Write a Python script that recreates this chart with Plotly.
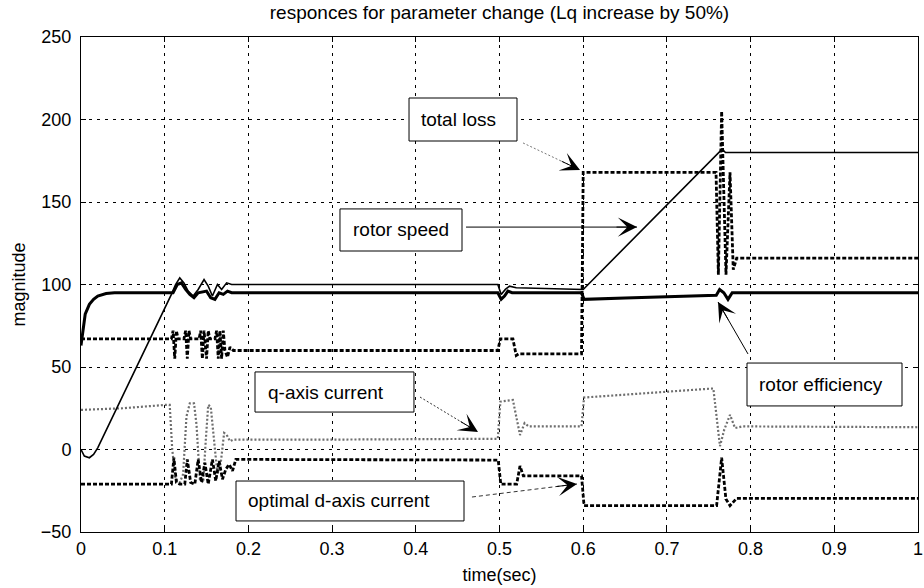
import plotly.graph_objects as go

# ---- simulated responses (time in seconds) ----
speed_t = [0, 0.004, 0.01, 0.015, 0.02, 0.04, 0.06, 0.08, 0.1, 0.108, 0.113, 0.118, 0.123,
           0.128, 0.134, 0.14, 0.147, 0.152, 0.157, 0.163, 0.168, 0.174, 0.18, 0.3, 0.45,
           0.498, 0.502, 0.507, 0.512, 0.52, 0.6, 0.766, 0.77, 0.78, 1.0]
speed_v = [0, -4, -5, -3, 1, 22, 43, 64, 85, 94, 100, 104, 101,
           96, 93, 97, 103, 99, 93, 100, 97, 101, 100, 100, 100,
           100, 94, 97, 99, 98, 97, 182, 180, 180, 180]

eff_t = [0, 0.002, 0.005, 0.01, 0.015, 0.02, 0.03, 0.04, 0.11, 0.115, 0.12, 0.125, 0.13,
         0.135, 0.14, 0.15, 0.155, 0.16, 0.165, 0.17, 0.175, 0.18, 0.498, 0.502, 0.506,
         0.51, 0.515, 0.598, 0.601, 0.65, 0.7, 0.759, 0.763, 0.768, 0.773, 0.778, 1.0]
eff_v = [63, 72, 82, 88, 91, 93, 94.5, 95, 95, 100, 101, 97, 94,
         92, 95, 96, 92, 91, 95, 94, 96, 95, 95, 91, 93,
         96, 95, 95, 91, 91.8, 92.5, 93.5, 97, 95, 91, 95, 95]

loss_t = [0, 0.108, 0.110, 0.112, 0.114, 0.116, 0.123, 0.125, 0.127, 0.129, 0.131,
          0.141, 0.143, 0.145, 0.147, 0.150, 0.152, 0.154, 0.16, 0.162, 0.164, 0.166,
          0.168, 0.170, 0.172, 0.175, 0.178, 0.182, 0.498, 0.501, 0.516, 0.52, 0.523,
          0.526, 0.598, 0.6, 0.7587, 0.7615, 0.7654, 0.7706, 0.7754, 0.7793, 0.7834, 1.0]
loss_v = [67, 67, 72, 55, 72, 67, 67, 72, 55, 72, 67,
          67, 72, 55, 72, 55, 72, 67, 67, 72, 55, 72,
          55, 72, 60, 56, 62, 60, 60, 67, 67, 57, 58,
          58, 58, 168, 168, 106, 205, 106, 168, 109, 116, 116]

iq_t = [0, 0.05, 0.1, 0.106, 0.109, 0.113, 0.118, 0.122, 0.126, 0.13, 0.135, 0.138, 0.142,
        0.146, 0.149, 0.152, 0.155, 0.159, 0.163, 0.167, 0.171, 0.174, 0.178, 0.182, 0.3,
        0.498, 0.501, 0.516, 0.5245, 0.53, 0.535, 0.598, 0.601, 0.7555, 0.7634, 0.7685,
        0.7754, 0.7814, 0.79, 1.0]
iq_v = [24, 25, 27, 27, 0, -18, -20, -15, 20, 28, 28, 15, -18,
        -20, 5, 27, 26, 5, -15, -8, 10, 9, 5, 6, 6,
        6.5, 29, 30, 8.8, 16, 14, 14, 31.5, 37, 2, 12,
        21, 13, 14, 13.5]

id_t = [0, 0.108, 0.111, 0.114, 0.118, 0.124, 0.127, 0.131, 0.136, 0.14, 0.144, 0.148,
        0.152, 0.157, 0.161, 0.165, 0.169, 0.173, 0.177, 0.181, 0.185, 0.3, 0.4985,
        0.5015, 0.5205, 0.5245, 0.5285, 0.535, 0.598, 0.601, 0.7594, 0.7654, 0.7705,
        0.7754, 0.7834, 1.0]
id_v = [-21, -21, -5, -20, -21, -21, -6, -20, -21, -6, -20, -8,
        -21, -6, -19, -7, -18, -12, -9, -13, -6, -6, -6.4,
        -21, -21, -10, -16, -16, -16, -34, -34, -5, -30,
        -34, -29.6, -29.6]

x_ticks = [0, 0.1, 0.2, 0.3, 0.4, 0.5, 0.6, 0.7, 0.8, 0.9, 1]
x_tick_text = ["0", "0.1", "0.2", "0.3", "0.4", "0.5", "0.6", "0.7", "0.8", "0.9", "1"]
y_ticks = [-50, 0, 50, 100, 150, 200, 250]

FONT = "Liberation Sans, Arial, Helvetica, sans-serif"
W, H = 924, 588
ML, MR, MT, MB = 81, 6, 37, 56
PX_PER_X = (W - ML - MR) / 1.0          # pixels per second
PX_PER_Y = (H - MT - MB) / 300.0        # pixels per unit of magnitude

fig = go.Figure()
fig.add_trace(go.Scatter(x=iq_t, y=iq_v, mode="lines",
                         line=dict(color="#6e6e6e", width=2.2, dash="2px,2px")))
fig.add_trace(go.Scatter(x=id_t, y=id_v, mode="lines",
                         line=dict(color="black", width=2.8, dash="4px,2px")))
fig.add_trace(go.Scatter(x=loss_t, y=loss_v, mode="lines",
                         line=dict(color="black", width=2.8, dash="4px,2px")))
fig.add_trace(go.Scatter(x=speed_t, y=speed_v, mode="lines",
                         line=dict(color="black", width=1.6)))
fig.add_trace(go.Scatter(x=eff_t, y=eff_v, mode="lines",
                         line=dict(color="black", width=3)))

# callout boxes: (label, x0, x1, y0, y1, text x)
boxes = [
    ("total loss", 0.3919, 0.5209, 186.97, 213.03, 0.4038),
    ("rotor speed", 0.3094, 0.4552, 120.3, 145.8, 0.3226),
    ("q-axis current", 0.2079, 0.3978, 22.7, 47.0, 0.2210),
    ("optimal d-axis current", 0.1852, 0.4576, -43.3, -19.1, 0.1971),
    ("rotor efficiency", 0.7957, 0.9809, 26.4, 52.4, 0.8076),
]
for label, x0, x1, y0, y1, tx in boxes:
    fig.add_shape(type="rect", xref="x", yref="y", x0=x0, x1=x1, y0=y0, y1=y1,
                  line=dict(color="black", width=1), fillcolor="white", layer="above")
    fig.add_annotation(x=tx, y=(y0 + y1) / 2, xref="x", yref="y", text=label,
                       showarrow=False, xanchor="left", yanchor="middle",
                       font=dict(family=FONT, size=19, color="black"))

# pointer arrows: (tail x, tail y, tip x, tip y, dash, colour)
arrows = [
    (0.5281, 185.8, 0.5962, 169.4, "2px,2px", "#777777"),
    (0.4600, 134.8, 0.6643, 134.8, "solid", "black"),
    (0.4050, 31.8, 0.4743, 10.6, "2px,2px", "#333333"),
    (0.4671, -28.8, 0.5926, -20.9, "4px,3px", "#333333"),
    (0.7969, 57.9, 0.7611, 89.4, "solid", "black"),
]
for x0, y0, x1, y1, dash, col in arrows:
    fig.add_shape(type="line", xref="x", yref="y", x0=x0, y0=y0, x1=x1, y1=y1,
                  line=dict(color=col, width=1, dash=dash), layer="above")
    dxp = (x0 - x1) * PX_PER_X
    dyp = -(y0 - y1) * PX_PER_Y
    n = (dxp ** 2 + dyp ** 2) ** 0.5
    fig.add_annotation(x=x1, y=y1, xref="x", yref="y", text="",
                       showarrow=True, arrowhead=3, arrowsize=3.2, arrowwidth=1,
                       arrowcolor="black", ax=dxp / n * 22, ay=dyp / n * 22)

axis_common = dict(
    showline=True, linecolor="black", linewidth=1, mirror="ticks",
    ticks="inside", ticklen=5, tickcolor="black",
    showgrid=True, gridcolor="black", gridwidth=1, griddash="3px,5px",
    zeroline=False, tickfont=dict(family=FONT, size=18, color="black"),
)
fig.update_xaxes(range=[0, 1], tickvals=x_ticks, ticktext=x_tick_text,
                 title=dict(text="time(sec)", font=dict(family=FONT, size=18, color="black"),
                            standoff=10),
                 **axis_common)
fig.update_yaxes(range=[-50, 250], tickvals=y_ticks, ticklabelstandoff=5,
                 title=dict(text="magnitude", font=dict(family=FONT, size=18, color="black"),
                            standoff=10),
                 **axis_common)

fig.update_layout(
    width=W, height=H,
    margin=dict(l=ML, r=MR, t=MT, b=MB, autoexpand=False),
    paper_bgcolor="white", plot_bgcolor="white",
    showlegend=False,
    title=dict(text="responces for parameter change (Lq increase by 50%)",
               x=0.5, xref="paper", xanchor="center",
               y=1 - 12 / H, yref="container", yanchor="middle",
               font=dict(family=FONT, size=19, color="black")),
)

fig.write_html("out.html")
